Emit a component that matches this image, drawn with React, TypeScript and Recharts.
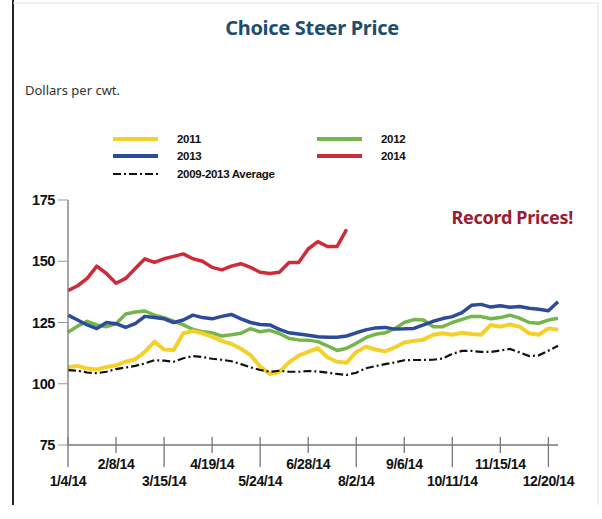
import { Line, LineChart, XAxis, YAxis } from 'recharts';

// weekly dates, 2014
const WEEKS = [
  '1/4/14', '1/11/14', '1/18/14', '1/25/14', '2/1/14', '2/8/14', '2/15/14', '2/22/14',
  '3/1/14', '3/8/14', '3/15/14', '3/22/14', '3/29/14', '4/5/14', '4/12/14', '4/19/14',
  '4/26/14', '5/3/14', '5/10/14', '5/17/14', '5/24/14', '5/31/14', '6/7/14', '6/14/14',
  '6/21/14', '6/28/14', '7/5/14', '7/12/14', '7/19/14', '7/26/14', '8/2/14', '8/9/14',
  '8/16/14', '8/23/14', '8/30/14', '9/6/14', '9/13/14', '9/20/14', '9/27/14', '10/4/14',
  '10/11/14', '10/18/14', '10/25/14', '11/1/14', '11/8/14', '11/15/14', '11/22/14', '11/29/14',
  '12/6/14', '12/13/14', '12/20/14', '12/27/14',
];

const TICK_LABELS = [
  '1/4/14', '2/8/14', '3/15/14', '4/19/14', '5/24/14', '6/28/14',
  '8/2/14', '9/6/14', '10/11/14', '11/15/14', '12/20/14',
];

const Y_TICKS = [75, 100, 125, 150, 175];

const Y2011 = [
  106.7, 107.3, 106.2, 105.8, 106.8, 107.5, 109, 110, 113, 117.2,
  114, 113.8, 120.6, 121.5, 120.6, 119.2, 117.5, 116.3, 114.3, 111.7,
  107, 104, 104.8, 108.7, 111.5, 113, 114.5, 110.8, 109, 108.6,
  113, 115.1, 114, 113.2, 114.8, 116.8, 117.5, 118, 120, 120.6,
  120, 120.8, 120.3, 120, 124, 123.3, 124.2, 123.3, 120.6, 120,
  122.6, 122,
];

const Y2012 = [
  121, 123.5, 125.5, 124, 123.3, 124.5, 128.5, 129.3, 129.7, 128,
  127, 125.6, 124, 122.2, 121.2, 120.8, 119.5, 120, 120.6, 122.5,
  121.2, 121.8, 120.5, 118.5, 117.9, 117.8, 117.2, 115.5, 113.6, 114.5,
  116.5, 118.8, 120.2, 120.8, 122.5, 125, 126.2, 126, 123.3, 123.3,
  125, 126.3, 127.5, 127.4, 126.5, 127, 128, 126.8, 125, 124.7,
  126, 126.7,
];

const Y2013 = [
  128, 126, 124, 122.5, 125, 124.5, 123, 124.5, 127.5, 127,
  126.5, 125, 126, 128, 127, 126.5, 127.5, 128.3, 126.5, 125,
  124.2, 124, 122.2, 120.8, 120.3, 119.8, 119.2, 119, 119, 119.5,
  120.8, 122, 122.8, 123, 122.3, 122.4, 122.6, 124, 125.5, 126.6,
  127.4, 129, 132, 132.4, 131.3, 131.8, 131.2, 131.5, 130.8, 130.4,
  129.8, 133.5,
];

const Y2014 = [
  138, 140, 143, 148, 145, 141, 143, 147, 151, 149.5,
  151, 152, 153, 151, 150, 147.5, 146.5, 148, 149, 147.5,
  145.5, 145, 145.5, 149.5, 149.5, 155, 158, 156, 156, 163,
];

const AVG = [
  105.6, 105.3, 104.6, 104.3, 104.9, 106, 106.6, 107.3, 108.3, 109.6,
  109.4, 109, 110.4, 111.3, 110.9, 110.2, 109.8, 109.2, 108, 106.7,
  105.6, 104.9, 105.3, 104.9, 104.9, 105.2, 105, 104.5, 104, 103.6,
  104.5, 106.3, 107.2, 108, 108.7, 109.6, 109.7, 109.7, 109.8, 110.3,
  112.2, 113.4, 113.4, 113, 113, 113.6, 114.2, 112.8, 111.3, 111.6,
  113.5, 115.5,
];

const C = {
  y2011: '#f3d12a',
  y2012: '#74b64a',
  y2013: '#2e4b9b',
  y2014: '#cf2b37',
  avg: '#111',
  title: '#1c4e70',
  record: '#9b1b30',
  axis: '#777',
};

const AVG_DASH = '8 3 2 3';
const FONT = '"Liberation Sans", Arial, sans-serif';
const HEAD_FONT = '"Noto Sans", "Open Sans", sans-serif';

const data = WEEKS.map((week, i) => ({
  week,
  y2011: Y2011[i],
  y2012: Y2012[i],
  y2013: Y2013[i],
  y2014: i < Y2014.length ? Y2014[i] : null,
  avg: AVG[i],
}));

function DateTick({ x, y, payload }: any) {
  const idx = TICK_LABELS.indexOf(payload.value);
  const low = idx % 2 === 0;
  return (
    <g>
      <line x1={x} x2={x} y1={y - 8} y2={y + (low ? 22 : 8)} stroke={C.axis} strokeWidth={1.3} />
      <text
        x={x}
        y={y + (low ? 40.5 : 23.5)}
        textAnchor="middle"
        fontFamily={FONT}
        fontWeight="bold"
        fontSize={14}
        letterSpacing={-0.4}
        fill="#111"
      >
        {payload.value}
      </text>
    </g>
  );
}

function LegendRow({ x, y, color, label, dash }: { x: number; y: number; color: string; label: string; dash?: boolean }) {
  return (
    <g>
      <line
        x1={x}
        x2={x + 45}
        y1={y}
        y2={y}
        stroke={color}
        strokeWidth={dash ? 2 : 4}
        strokeDasharray={dash ? AVG_DASH : undefined}
      />
      <text x={x + 64} y={y + 4} fontFamily={FONT} fontWeight="bold" fontSize={11.5} letterSpacing={-0.3} fill="#111">
        {label}
      </text>
    </g>
  );
}

export default function App() {
  return (
    <div
      style={{
        position: 'absolute',
        left: 0,
        top: 0,
        width: 602,
        height: 519,
        background: '#fff',
        overflow: 'hidden',
      }}
    >
      <LineChart
        width={602}
        height={519}
        data={data}
        margin={{ top: 200, right: 44, bottom: 44, left: 8 }}
      >
        <XAxis
          dataKey="week"
          scale="point"
          padding={{ left: 0, right: 0 }}
          ticks={TICK_LABELS}
          interval={0}
          tickLine={false}
          tickSize={0}
          tickMargin={0}
          axisLine={{ stroke: C.axis, strokeWidth: 1.3 }}
          tick={<DateTick />}
        />
        <YAxis
          width={60}
          domain={[75, 175]}
          ticks={Y_TICKS}
          interval={0}
          allowDataOverflow
          tickSize={10}
          tickMargin={3}
          tickLine={{ stroke: '#999' }}
          axisLine={{ stroke: C.axis, strokeWidth: 1.3 }}
          tick={{ fontFamily: FONT, fontWeight: 'bold', fontSize: 14.5, fill: '#111', letterSpacing: -0.4 }}
        />
        <Line dataKey="y2012" stroke={C.y2012} strokeWidth={3.5} dot={false} isAnimationActive={false} strokeLinejoin="round" />
        <Line dataKey="y2011" stroke={C.y2011} strokeWidth={4} dot={false} isAnimationActive={false} strokeLinejoin="round" />
        <Line dataKey="y2013" stroke={C.y2013} strokeWidth={3.5} dot={false} isAnimationActive={false} strokeLinejoin="round" />
        <Line dataKey="y2014" stroke={C.y2014} strokeWidth={3.5} dot={false} isAnimationActive={false} strokeLinejoin="round" />
        <Line
          dataKey="avg"
          stroke={C.avg}
          strokeWidth={2.2}
          strokeDasharray={AVG_DASH}
          dot={false}
          isAnimationActive={false}
        />
      </LineChart>

      <svg width={602} height={519} style={{ position: 'absolute', left: 0, top: 0, pointerEvents: 'none' }}>
        {/* frame */}
        <line x1={13} x2={13} y1={0} y2={505} stroke="#222" strokeWidth={2} />
        <line x1={13} x2={598} y1={3} y2={3} stroke="#e2e2e2" strokeWidth={1} />
        <line x1={598} x2={598} y1={3} y2={505} stroke="#e2e2e2" strokeWidth={1} />

        <text x={312} y={35} textAnchor="middle" fontFamily={HEAD_FONT} fontWeight="bold" fontSize={20} letterSpacing={-0.3} fill={C.title}>
          Choice Steer Price
        </text>
        <text x={25} y={95} fontFamily={HEAD_FONT} fontSize={13} fill="#333">
          Dollars per cwt.
        </text>

        <LegendRow x={113} y={139} color={C.y2011} label="2011" />
        <LegendRow x={317} y={139} color={C.y2012} label="2012" />
        <LegendRow x={113} y={156} color={C.y2013} label="2013" />
        <LegendRow x={317} y={156} color={C.y2014} label="2014" />
        <LegendRow x={113} y={174} color={C.avg} label="2009-2013 Average" dash />

        <text x={573} y={224} textAnchor="end" fontFamily={HEAD_FONT} fontWeight="bold" fontSize={18} letterSpacing={-0.3} fill={C.record}>
          Record Prices!
        </text>
      </svg>
    </div>
  );
}
